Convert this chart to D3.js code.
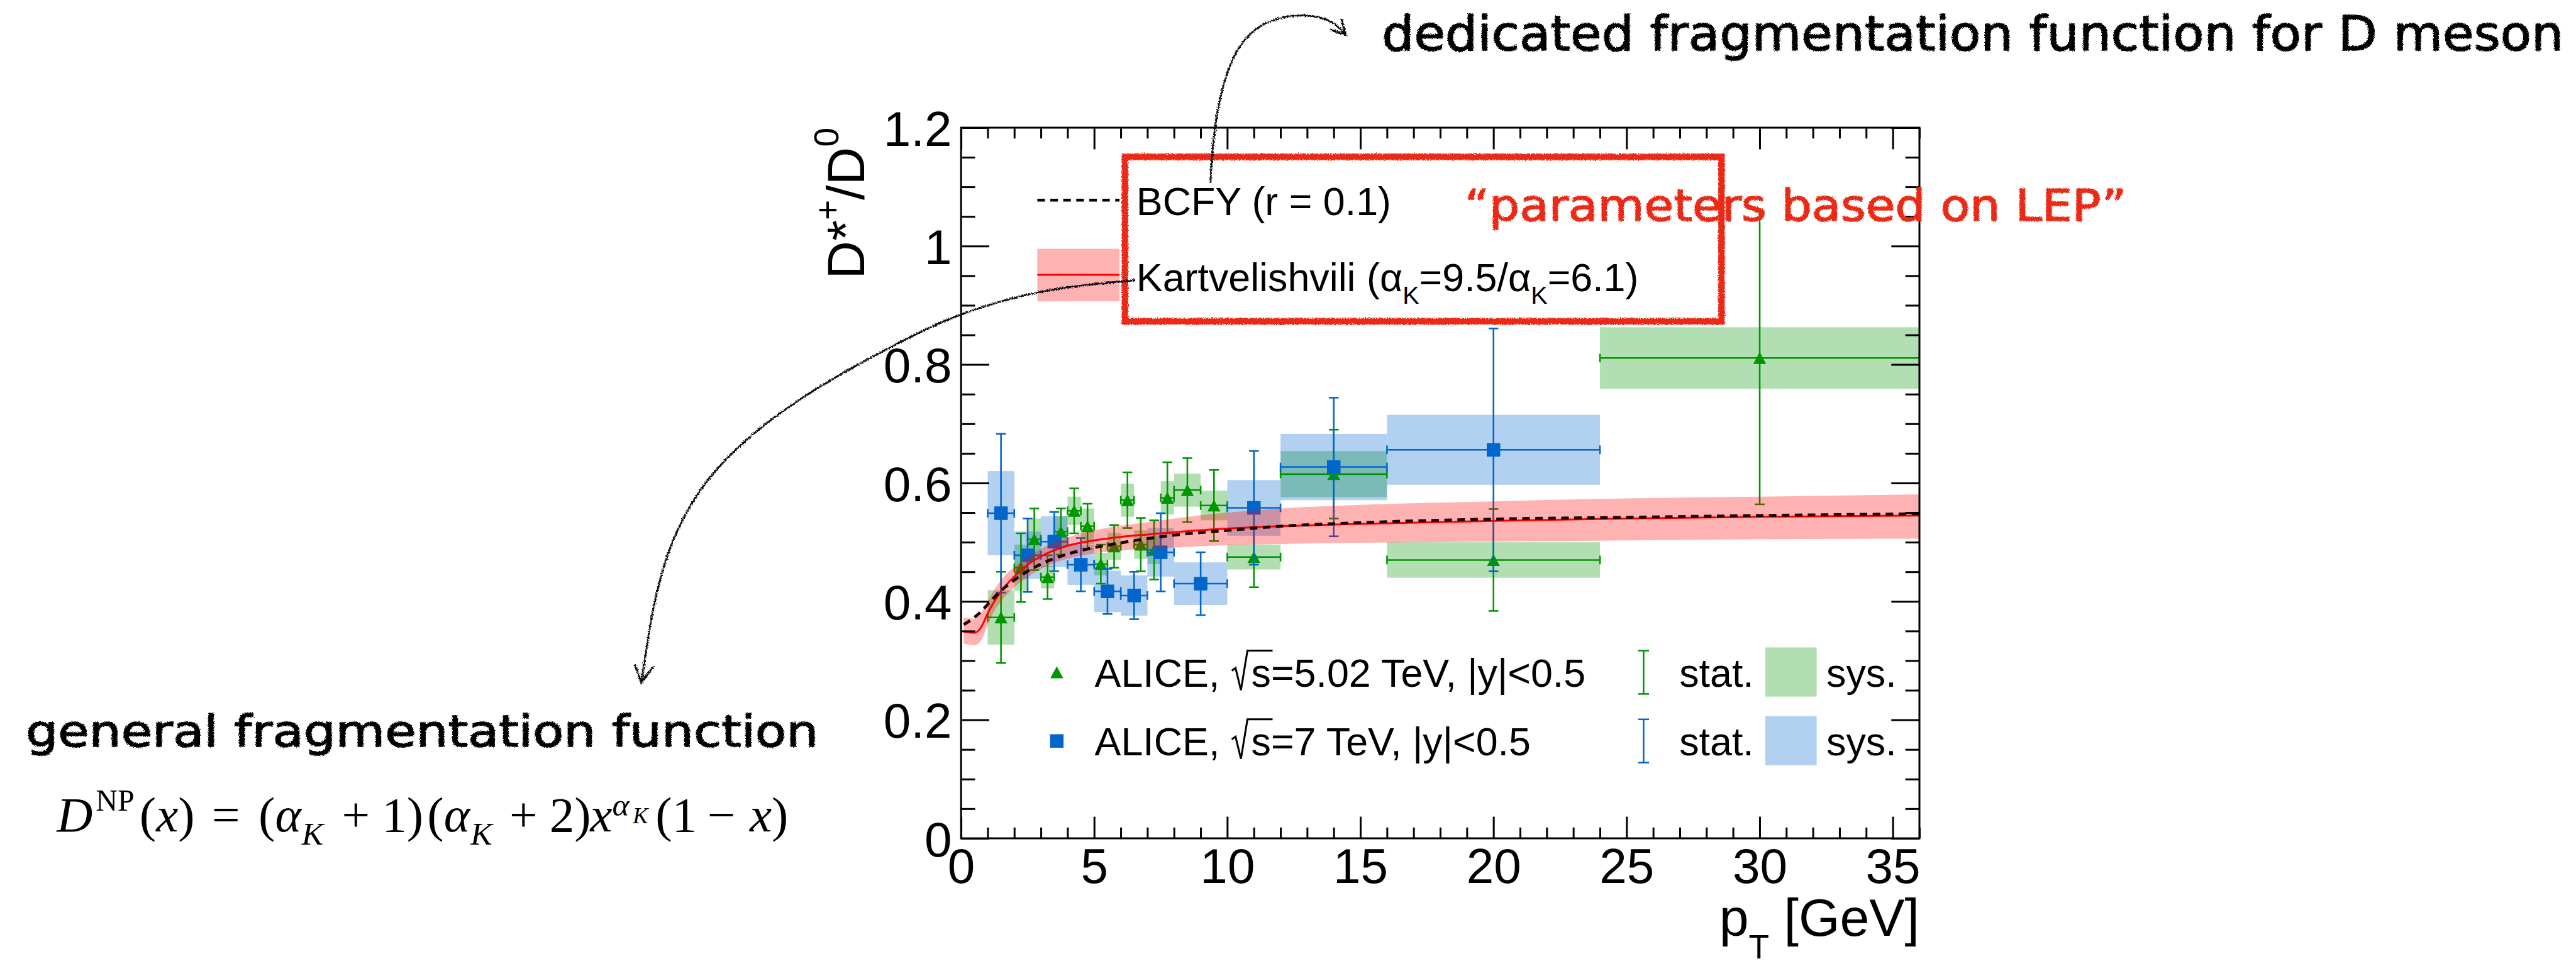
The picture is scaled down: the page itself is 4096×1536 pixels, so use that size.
<!DOCTYPE html>
<html>
<head>
<meta charset="utf-8">
<script src="https://cdn.jsdelivr.net/npm/d3@7"></script>
<style>
  html, body { margin: 0; padding: 0; background: #fff; }
  svg { display: block; }
</style>
</head>
<body>
<svg id="chart" width="4096" height="1536" viewBox="0 0 4763 1786"></svg>
<script>
// ---------- data ----------
// ALICE, sqrt(s) = 5.02 TeV : pT bins, D*+/D0 ratio, stat. and syst. uncertainties
const pt502Lo  = [1, 2, 2.5, 3, 3.5, 4, 4.5, 5, 5.5, 6, 6.5, 7, 7.5, 8, 9, 10, 12, 16, 24];
const pt502Hi  = [2, 2.5, 3, 3.5, 4, 4.5, 5, 5.5, 6, 6.5, 7, 7.5, 8, 9, 10, 12, 16, 24, 36];
const ratio502 = [0.373, 0.457, 0.505, 0.441, 0.518, 0.553, 0.527, 0.463, 0.493, 0.571, 0.496, 0.487, 0.575, 0.588, 0.562, 0.475, 0.615, 0.470, 0.811];
const stat502  = [0.077, 0.058, 0.052, 0.037, 0.039, 0.038, 0.038, 0.033, 0.036, 0.047, 0.045, 0.050, 0.060, 0.054, 0.060, 0.051, 0.075, 0.086, 0.247];
const sys502   = [0.046, 0.039, 0.035, 0.019, 0.026, 0.024, 0.030, 0.019, 0.023, 0.028, 0.024, 0.024, 0.028, 0.028, 0.025, 0.021, 0.039, 0.030, 0.052];

// ALICE, sqrt(s) = 7 TeV
const pt7Lo  = [1, 2, 3, 4, 5, 6, 7, 8, 10, 12, 16];
const pt7Hi  = [2, 3, 4, 5, 6, 7, 8, 10, 12, 16, 24];
const ratio7 = [0.549, 0.478, 0.501, 0.462, 0.417, 0.410, 0.483, 0.430, 0.558, 0.627, 0.656];
const stat7  = [0.134, 0.062, 0.050, 0.045, 0.038, 0.040, 0.066, 0.053, 0.096, 0.117, 0.205];
const sys7   = [0.071, 0.040, 0.043, 0.034, 0.035, 0.034, 0.041, 0.036, 0.047, 0.056, 0.059];

// Model curves sampled in pT
const modelPt     = [0.1, 0.5, 0.75, 1, 1.25, 1.5, 2, 2.5, 3, 4, 5, 6, 7, 8, 10, 12, 15, 20, 25, 30, 36];
const kartCentral = [0.349, 0.347, 0.356, 0.380, 0.400, 0.417, 0.442, 0.462, 0.476, 0.494, 0.503, 0.509, 0.513, 0.517, 0.523, 0.527, 0.531, 0.536, 0.540, 0.543, 0.545];
const kartHigh    = [0.373, 0.371, 0.381, 0.400, 0.420, 0.436, 0.458, 0.475, 0.489, 0.508, 0.520, 0.528, 0.534, 0.540, 0.550, 0.557, 0.563, 0.569, 0.574, 0.577, 0.581];
const kartLow     = [0.329, 0.326, 0.334, 0.360, 0.384, 0.400, 0.424, 0.441, 0.455, 0.472, 0.481, 0.486, 0.489, 0.491, 0.495, 0.497, 0.499, 0.501, 0.503, 0.505, 0.506];
const bcfyCurve   = [0.361, 0.373, 0.383, 0.395, 0.407, 0.418, 0.436, 0.451, 0.463, 0.480, 0.491, 0.499, 0.506, 0.512, 0.520, 0.527, 0.533, 0.539, 0.542, 0.545, 0.548];

// Axis ticks
const xTicks = [0, 5, 10, 15, 20, 25, 30, 35];
const xTickLabels = ["0", "5", "10", "15", "20", "25", "30", "35"];
const yTicks = [0, 0.2, 0.4, 0.6, 0.8, 1, 1.2];
const yTickLabels = ["0", "0.2", "0.4", "0.6", "0.8", "1", "1.2"];

// ---------- style ----------
const GREEN = "#009600", BLUE = "#0066cc", RED = "#ff0000", PEN_RED = "#ea2a14";
const SANS = "'Liberation Sans', Arial, Helvetica, sans-serif";
const SERIF = "'Liberation Serif', 'Times New Roman', serif";
const HAND = "'DejaVu Sans', sans-serif";

const frame = { left: 1777, right: 3549, top: 236, bottom: 1550 };

const x = d3.scaleLinear().domain([0, 36]).range([frame.left, frame.right]);
const y = d3.scaleLinear().domain([0, 1.2]).range([frame.bottom, frame.top]);

const svg = d3.select("#chart");
svg.append("rect").attr("width", 4763).attr("height", 1786).attr("fill", "#fff");

const defs = svg.append("defs");
function roughFilter(id, freq, scale) {
  const f = defs.append("filter").attr("id", id)
    .attr("filterUnits", "userSpaceOnUse").attr("x", 0).attr("y", 0).attr("width", 4763).attr("height", 1786);
  f.append("feTurbulence").attr("type", "fractalNoise").attr("baseFrequency", freq)
    .attr("numOctaves", 2).attr("seed", 7).attr("result", "noise");
  f.append("feDisplacementMap").attr("in", "SourceGraphic").attr("in2", "noise")
    .attr("scale", scale).attr("xChannelSelector", "R").attr("yChannelSelector", "G");
}
roughFilter("rough", 0.45, 7);
roughFilter("roughText", 0.7, 5);
defs.append("clipPath").attr("id", "plotClip").append("rect")
  .attr("x", frame.left).attr("y", frame.top)
  .attr("width", frame.right - frame.left).attr("height", frame.bottom - frame.top);

// Assemble point records
const d502 = ratio502.map((v, i) => ({ lo: pt502Lo[i], hi: pt502Hi[i], c: (pt502Lo[i] + pt502Hi[i]) / 2, v, stat: stat502[i], sys: sys502[i] }));
const d7 = ratio7.map((v, i) => ({ lo: pt7Lo[i], hi: pt7Hi[i], c: (pt7Lo[i] + pt7Hi[i]) / 2, v, stat: stat7[i], sys: sys7[i] }));
const model = modelPt.map((p, i) => ({ pt: p, k: kartCentral[i], hi: kartHigh[i], lo: kartLow[i], b: bcfyCurve[i] }));

const plot = svg.append("g").attr("clip-path", "url(#plotClip)");

// systematic boxes (green first, blue drawn over it)
function sysBoxes(data, color) {
  plot.append("g").selectAll("rect").data(data).join("rect")
    .attr("x", d => x(d.lo)).attr("width", d => x(d.hi) - x(d.lo))
    .attr("y", d => y(d.v + d.sys)).attr("height", d => y(d.v - d.sys) - y(d.v + d.sys))
    .attr("fill", color).attr("fill-opacity", 0.3);
}
sysBoxes(d502, GREEN);
sysBoxes(d7, BLUE);

// error bars and markers
function pointSeries(data, color, marker) {
  const g = plot.append("g").attr("stroke", color).attr("stroke-width", 3);
  const capW = 9, capH = 8;
  g.selectAll(".ey").data(data).join("line")
    .attr("x1", d => x(d.c)).attr("x2", d => x(d.c))
    .attr("y1", d => y(d.v + d.stat)).attr("y2", d => y(d.v - d.stat));
  g.selectAll(".cap1").data(data).join("line")
    .attr("x1", d => x(d.c) - capW).attr("x2", d => x(d.c) + capW)
    .attr("y1", d => y(d.v + d.stat)).attr("y2", d => y(d.v + d.stat));
  g.selectAll(".cap2").data(data).join("line")
    .attr("x1", d => x(d.c) - capW).attr("x2", d => x(d.c) + capW)
    .attr("y1", d => y(d.v - d.stat)).attr("y2", d => y(d.v - d.stat));
  g.selectAll(".ex").data(data).join("line")
    .attr("x1", d => x(d.lo)).attr("x2", d => x(d.hi))
    .attr("y1", d => y(d.v)).attr("y2", d => y(d.v));
  g.selectAll(".capL").data(data).join("line")
    .attr("x1", d => x(d.lo)).attr("x2", d => x(d.lo))
    .attr("y1", d => y(d.v) - capH).attr("y2", d => y(d.v) + capH);
  g.selectAll(".capR").data(data).join("line")
    .attr("x1", d => x(d.hi)).attr("x2", d => x(d.hi))
    .attr("y1", d => y(d.v) - capH).attr("y2", d => y(d.v) + capH);
  plot.append("g").selectAll("path").data(data).join("path")
    .attr("d", d => marker(x(d.c), y(d.v))).attr("fill", color);
}
const triangle = (cx, cy) => `M${cx - 12},${cy + 11}L${cx + 12},${cy + 11}L${cx},${cy - 11}Z`;
const square = (cx, cy) => `M${cx - 12.5},${cy - 12.5}h25v25h-25Z`;
pointSeries(d502, GREEN, triangle);
pointSeries(d7, BLUE, square);

// Kartvelishvili band + central curve, BCFY curve
plot.append("path").datum(model)
  .attr("d", d3.area().x(d => x(d.pt)).y0(d => y(d.lo)).y1(d => y(d.hi)).curve(d3.curveMonotoneX))
  .attr("fill", RED).attr("fill-opacity", 0.3);
plot.append("path").datum(model)
  .attr("d", d3.line().x(d => x(d.pt)).y(d => y(d.k)).curve(d3.curveMonotoneX))
  .attr("fill", "none").attr("stroke", RED).attr("stroke-width", 3.5);
plot.append("path").datum(model)
  .attr("d", d3.line().x(d => x(d.pt)).y(d => y(d.b)).curve(d3.curveMonotoneX))
  .attr("fill", "none").attr("stroke", "#1e0000").attr("stroke-width", 5.5).attr("stroke-dasharray", "14 10");

// ---------- axes ----------
function styleAxis(g, fontSize) {
  g.select(".domain").remove();
  g.selectAll(".tick line").attr("stroke", "#000").attr("stroke-width", 3.5);
  g.selectAll(".tick text").attr("fill", "#000").attr("font-family", SANS).attr("font-size", fontSize);
}
const xMinor = d3.range(0, 37).filter(v => v % 5 !== 0);
const yMinor = d3.range(0, 25).filter(i => i % 4 !== 0).map(i => i / 20);

const axB = svg.append("g").attr("transform", `translate(0,${frame.bottom})`)
  .call(d3.axisBottom(x).tickValues(xTicks).tickSize(-40).tickPadding(18).tickFormat((d, i) => xTickLabels[i]));
styleAxis(axB, 91);
const axBm = svg.append("g").attr("transform", `translate(0,${frame.bottom})`)
  .call(d3.axisBottom(x).tickValues(xMinor).tickSize(-20).tickFormat(""));
styleAxis(axBm, 0);
const axT = svg.append("g").attr("transform", `translate(0,${frame.top})`)
  .call(d3.axisTop(x).tickValues(xTicks).tickSize(-40).tickFormat(""));
styleAxis(axT, 0);
const axTm = svg.append("g").attr("transform", `translate(0,${frame.top})`)
  .call(d3.axisTop(x).tickValues(xMinor).tickSize(-20).tickFormat(""));
styleAxis(axTm, 0);

const axL = svg.append("g").attr("transform", `translate(${frame.left},0)`)
  .call(d3.axisLeft(y).tickValues(yTicks).tickSize(-52).tickPadding(17).tickFormat((d, i) => yTickLabels[i]));
styleAxis(axL, 91);
axL.selectAll(".tick text").attr("dy", "0.36em");
const axLm = svg.append("g").attr("transform", `translate(${frame.left},0)`)
  .call(d3.axisLeft(y).tickValues(yMinor).tickSize(-26).tickFormat(""));
styleAxis(axLm, 0);
const axR = svg.append("g").attr("transform", `translate(${frame.right},0)`)
  .call(d3.axisRight(y).tickValues(yTicks).tickSize(-52).tickFormat(""));
styleAxis(axR, 0);
const axRm = svg.append("g").attr("transform", `translate(${frame.right},0)`)
  .call(d3.axisRight(y).tickValues(yMinor).tickSize(-26).tickFormat(""));
styleAxis(axRm, 0);

svg.append("rect").attr("x", frame.left).attr("y", frame.top)
  .attr("width", frame.right - frame.left).attr("height", frame.bottom - frame.top)
  .attr("fill", "none").attr("stroke", "#000").attr("stroke-width", 3.5);

// axis titles
const yTitle = svg.append("text").attr("transform", `translate(1598,${frame.top}) rotate(-90)`)
  .attr("text-anchor", "end").attr("font-family", SANS).attr("font-size", 98).attr("fill", "#000");
yTitle.append("tspan").text("D*");
yTitle.append("tspan").attr("font-size", 64).attr("dy", -46).text("+");
yTitle.append("tspan").attr("dy", 46).text("/D");
yTitle.append("tspan").attr("font-size", 64).attr("dy", -48).text("0");

const xTitle = svg.append("text").attr("x", frame.right).attr("y", 1730)
  .attr("text-anchor", "end").attr("font-family", SANS).attr("font-size", 98).attr("fill", "#000");
xTitle.append("tspan").text("p");
xTitle.append("tspan").attr("font-size", 62).attr("dy", 42).text("T");
xTitle.append("tspan").attr("dy", -42).text(" [GeV]");

// ---------- legends ----------
const LEG = 73;
// model legend
svg.append("line").attr("x1", 1918).attr("x2", 2070).attr("y1", 370).attr("y2", 370)
  .attr("stroke", "#000").attr("stroke-width", 5).attr("stroke-dasharray", "14 10");
svg.append("text").attr("x", 2101).attr("y", 398).attr("font-family", SANS).attr("font-size", LEG)
  .text("BCFY (r = 0.1)");
svg.append("rect").attr("x", 1918).attr("y", 460).attr("width", 152).attr("height", 97)
  .attr("fill", RED).attr("fill-opacity", 0.3);
svg.append("line").attr("x1", 1918).attr("x2", 2070).attr("y1", 508).attr("y2", 508)
  .attr("stroke", RED).attr("stroke-width", 3.5);
const kt = svg.append("text").attr("x", 2101).attr("y", 538).attr("font-family", SANS).attr("font-size", LEG);
kt.append("tspan").text("Kartvelishvili (α");
kt.append("tspan").attr("font-size", 46).attr("dy", 24).text("K");
kt.append("tspan").attr("dy", -24).text("=9.5/α");
kt.append("tspan").attr("font-size", 46).attr("dy", 24).text("K");
kt.append("tspan").attr("dy", -24).text("=6.1)");

// data legend
const legRows = [
  { base: 1270, color: GREEN, marker: triangle, energy: "=5.02 TeV, |y|<0.5" },
  { base: 1397, color: BLUE, marker: square, energy: "=7 TeV, |y|<0.5" }
];
legRows.forEach(r => {
  const cy = r.base - 27;
  svg.append("path").attr("d", r.marker(1954, cy)).attr("fill", r.color);
  const t = svg.append("text").attr("x", 2024).attr("y", r.base).attr("font-family", SANS).attr("font-size", LEG);
  t.append("tspan").text("ALICE, ");
  t.append("tspan").attr("dx", 38).text("s" + r.energy);
  const node = t.node();
  const sIdx = 7;
  const sx = node.getStartPositionOfChar(sIdx).x;
  const se = node.getExtentOfChar(sIdx);
  const b = r.base;
  svg.append("path")
    .attr("d", `M${sx - 36},${b - 30}L${sx - 29},${b - 35}L${sx - 19},${b + 6}L${sx - 7},${b - 67}L${se.x + se.width + 3},${b - 67}`)
    .attr("fill", "none").attr("stroke", "#000").attr("stroke-width", 3.5).attr("stroke-linejoin", "miter");
  // stat. symbol
  const sg = svg.append("g").attr("stroke", r.color).attr("stroke-width", 3);
  sg.append("line").attr("x1", 3039).attr("x2", 3039).attr("y1", cy - 40).attr("y2", cy + 40);
  sg.append("line").attr("x1", 3029).attr("x2", 3049).attr("y1", cy - 40).attr("y2", cy - 40);
  sg.append("line").attr("x1", 3029).attr("x2", 3049).attr("y1", cy + 40).attr("y2", cy + 40);
  svg.append("text").attr("x", 3105).attr("y", b).attr("font-family", SANS).attr("font-size", LEG).text("stat.");
  svg.append("rect").attr("x", 3264).attr("y", cy - 46).attr("width", 95).attr("height", 91)
    .attr("fill", r.color).attr("fill-opacity", 0.3);
  svg.append("text").attr("x", 3377).attr("y", b).attr("font-family", SANS).attr("font-size", LEG).text("sys.");
});

// ---------- annotations ----------
const ann = svg.append("g");
ann.append("rect").attr("x", 2080).attr("y", 290).attr("width", 1103).attr("height", 304)
  .attr("fill", "none").attr("stroke", PEN_RED).attr("stroke-width", 12).attr("filter", "url(#rough)");

function handText(xp, yp, size, len, color, str) {
  ann.append("text").attr("x", xp).attr("y", yp).attr("font-family", HAND).attr("font-size", size)
    .attr("fill", color).attr("stroke", color).attr("stroke-width", 1.8).attr("stroke-linejoin", "round")
    .attr("textLength", len).attr("lengthAdjust", "spacingAndGlyphs")
    .attr("filter", "url(#roughText)").text(str);
}
handText(2708, 408, 80, 1224, PEN_RED, "“parameters based on LEP”");
handText(2555, 93, 90, 2185, "#000", "dedicated fragmentation function for D meson");
handText(48, 1380, 80, 1465, "#000", "general fragmentation function");

function arrow(points, headLen) {
  ann.append("path").attr("d", d3.line().curve(d3.curveBasis)(points))
    .attr("fill", "none").attr("stroke", "#111").attr("stroke-width", 3.5).attr("filter", "url(#rough)");
  const p1 = points[points.length - 2], p2 = points[points.length - 1];
  const ang = Math.atan2(p2[1] - p1[1], p2[0] - p1[0]);
  const a1 = ang + Math.PI - 0.5, a2 = ang + Math.PI + 0.5;
  ann.append("path")
    .attr("d", `M${p2[0] + headLen * Math.cos(a1)},${p2[1] + headLen * Math.sin(a1)}L${p2[0]},${p2[1]}L${p2[0] + headLen * Math.cos(a2)},${p2[1] + headLen * Math.sin(a2)}`)
    .attr("fill", "none").attr("stroke", "#111").attr("stroke-width", 4).attr("filter", "url(#rough)");
}
arrow([[2238, 338], [2240, 300], [2246, 230], [2262, 150], [2288, 85], [2330, 42], [2395, 25], [2448, 32], [2470, 45], [2488, 64]], 30);
arrow([[2099, 518], [1990, 528], [1902, 542], [1768, 580], [1634, 647], [1500, 722], [1390, 800], [1295, 895], [1235, 1010], [1205, 1130], [1186, 1262]], 36);

// formula D^NP(x) = (αK+1)(αK+2) x^αK (1-x)
function mtext(xp, yp, fs, parts) {
  const t = ann.append("text").attr("x", xp).attr("y", yp).attr("font-family", SERIF).attr("font-size", fs).attr("fill", "#000");
  parts.forEach(([s, it]) => t.append("tspan").attr("font-style", it ? "italic" : "normal").text(s));
}
const FB = 1537, FS = 92;
mtext(105, FB, FS, [["D", true]]);
mtext(177, 1499, 56, [["NP", false]]);
mtext(258, FB, FS, [["(", false], ["x", true], [")", false]]);
mtext(392, FB, FS, [["=", false]]);
mtext(478, FB, FS, [["(", false], ["α", true]]);
mtext(558, 1562, 60, [["K", true]]);
mtext(632, FB, FS, [["+", false]]);
mtext(706, FB, FS, [["1)", false]]);
mtext(790, FB, FS, [["(", false], ["α", true]]);
mtext(870, 1562, 60, [["K", true]]);
mtext(942, FB, FS, [["+", false]]);
mtext(1016, FB, FS, [["2)", false]]);
mtext(1091, FB, FS, [["x", true]]);
mtext(1132, 1508, 60, [["α", true]]);
mtext(1170, 1522, 42, [["K", true]]);
mtext(1212, FB, FS, [["(1", false]]);
mtext(1308, FB, FS, [["−", false]]);
mtext(1386, FB, FS, [["x", true], [")", false]]);
</script>
</body>
</html>
